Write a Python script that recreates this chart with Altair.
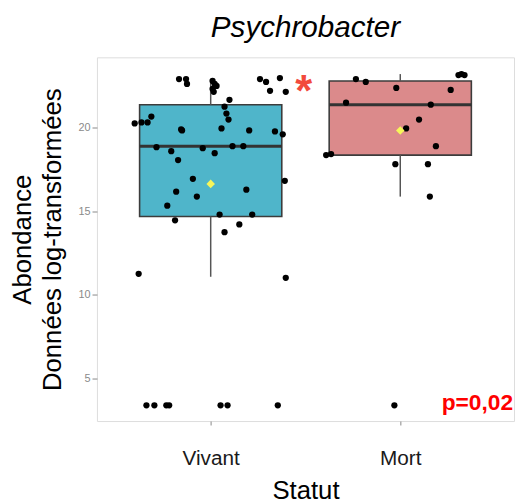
import altair as alt
import pandas as pd

categories = ["Vivant", "Mort"]
box_colors = ["#4fb5ca", "#db8a8b"]

# box statistics
q1 = [14.68, 18.35]
median = [18.88, 21.36]
q3 = [21.36, 22.78]
whisker_low = [11.08, 15.87]
whisker_high = [22.90, 23.19]
means = [16.63, 19.82]
box_half_width = 0.375

vivant_values = [22.89, 22.89, 22.60, 22.78, 22.60, 22.48, 22.30, 22.13, 22.89, 22.72,
                 22.95, 22.19, 22.13, 21.65, 21.24, 20.83, 20.47, 20.24, 20.30, 20.30,
                 20.65, 19.88, 19.82, 19.94, 19.82, 19.76, 19.59, 18.82, 18.58, 18.76,
                 18.46, 18.88, 18.88, 18.05, 16.93, 16.16, 15.87, 16.28, 16.81, 15.33,
                 14.80, 14.80, 14.45, 14.21, 13.74, 11.26, 11.02, 3.40, 3.40, 3.40,
                 3.40, 3.40, 3.40, 3.40]
vivant_jitter = [-0.167, -0.130, -0.125, 0.010, 0.021, 0.031, 0.010, 0.016, 0.260, 0.292,
                 0.365, 0.313, 0.396, 0.099, 0.073, 0.083, 0.094, -0.401, -0.365, -0.333,
                 -0.313, -0.156, -0.151, 0.057, 0.203, 0.339, 0.380, -0.286, -0.208, -0.042,
                 0.021, 0.115, 0.172, -0.172, -0.094, -0.182, -0.073, 0.188, 0.391, -0.229,
                 0.047, 0.219, -0.188, 0.151, 0.073, -0.380, 0.396, -0.339, -0.297, -0.234,
                 -0.219, 0.052, 0.089, 0.354]
mort_values = [22.89, 22.72, 22.36, 22.24, 23.13, 23.19, 23.13, 21.48, 21.36, 20.47,
               19.94, 18.88, 18.35, 18.41, 17.81, 17.81, 15.87, 3.40]
mort_jitter = [-0.234, -0.182, -0.021, 0.266, 0.307, 0.323, 0.339, -0.286, 0.161, 0.099,
               0.031, 0.188, -0.391, -0.365, -0.026, 0.146, 0.156, -0.031]

y_ticks = [5, 10, 15, 20]
y_domain = [2.46, 24.19]
x_domain = [0.4, 2.6]

title_text = "Psychrobacter"
x_title = "Statut"
y_title = ["Abondance", "Données log-transformées"]

sig_text = ["*"]
sig_x = [1.49]
sig_y = [21.3]
p_text = ["p=0,02"]
p_x = [2.6]
p_y = [3.11]

FONT = "Liberation Sans"

# ---- tables ----
box_df = pd.DataFrame({
    "statut": categories,
    "pos": [i + 1 for i in range(len(categories))],
    "q1": q1, "median": median, "q3": q3,
    "lo": whisker_low, "hi": whisker_high, "mean": means,
})
box_df["xl"] = box_df["pos"] - box_half_width
box_df["xr"] = box_df["pos"] + box_half_width

pts = []
for v, j in zip(vivant_values, vivant_jitter):
    pts.append({"statut": "Vivant", "x": 1 + j, "value": v})
for v, j in zip(mort_values, mort_jitter):
    pts.append({"statut": "Mort", "x": 2 + j, "value": v})
pts_df = pd.DataFrame(pts)

sig_df = pd.DataFrame({"x": sig_x, "y": sig_y, "t": sig_text})
p_df = pd.DataFrame({"x": p_x, "y": p_y, "t": p_text})

label_expr = " : ".join(
    [f"datum.value == {i + 1} ? '{c}'" for i, c in enumerate(categories)]
) + " : ''"

xscale = alt.Scale(domain=x_domain, nice=False, zero=False)
yscale = alt.Scale(domain=y_domain, nice=False, zero=False)

xaxis = alt.Axis(values=[1, 2], labelExpr=label_expr, title=x_title, grid=False,
                 domain=False, tickColor="#888888", tickSize=4, tickWidth=1,
                 labelColor="#1a1a1a", labelFontSize=21, labelFont=FONT,
                 labelPadding=23, titleFont=FONT, titleFontSize=26,
                 titleFontWeight="normal", titleColor="#000000", titlePadding=9)
yaxis = alt.Axis(values=y_ticks, title=y_title, grid=False, domain=False,
                 tickColor="#888888", tickSize=5, tickWidth=1, labelColor="#8a8a8a",
                 labelFontSize=11, labelFont=FONT, labelPadding=2,
                 titleFont=FONT, titleFontSize=26, titleFontWeight="normal",
                 titleColor="#000000", titleLineHeight=30, titlePadding=13)

color = alt.Color("statut:N", scale=alt.Scale(domain=categories, range=box_colors), legend=None)

boxes = alt.Chart(box_df).mark_bar(stroke="#3c3c3c", strokeWidth=1.6, opacity=1).encode(
    x=alt.X("xl:Q", scale=xscale, axis=xaxis),
    x2="xr:Q",
    y=alt.Y("q1:Q", scale=yscale, axis=yaxis),
    y2="q3:Q",
    color=color,
)
whisk_hi = alt.Chart(box_df).mark_rule(color="#555555", strokeWidth=1.5).encode(
    x=alt.X("pos:Q", scale=xscale, axis=xaxis),
    y=alt.Y("q3:Q", scale=yscale, axis=yaxis),
    y2="hi:Q",
)
whisk_lo = alt.Chart(box_df).mark_rule(color="#555555", strokeWidth=1.5).encode(
    x=alt.X("pos:Q", scale=xscale, axis=xaxis),
    y=alt.Y("lo:Q", scale=yscale, axis=yaxis),
    y2="q1:Q",
)
med = alt.Chart(box_df).mark_rule(color="#333333", strokeWidth=3.2).encode(
    x=alt.X("xl:Q", scale=xscale, axis=xaxis),
    x2="xr:Q",
    y=alt.Y("median:Q", scale=yscale, axis=yaxis),
)
points = alt.Chart(pts_df).mark_circle(size=40, color="#000000", opacity=1).encode(
    x=alt.X("x:Q", scale=xscale, axis=xaxis),
    y=alt.Y("value:Q", scale=yscale, axis=yaxis),
)
mean_pts = alt.Chart(box_df).mark_point(shape="diamond", filled=True, color="#f6f65a",
                                        size=75, opacity=1).encode(
    x=alt.X("pos:Q", scale=xscale, axis=xaxis),
    y=alt.Y("mean:Q", scale=yscale, axis=yaxis),
)
sig = alt.Chart(sig_df).mark_text(font=FONT, fontSize=44, fontWeight="bold", color="#f24a3c",
                                  align="center", baseline="alphabetic").encode(
    x=alt.X("x:Q", scale=xscale, axis=xaxis),
    y=alt.Y("y:Q", scale=yscale, axis=yaxis),
    text="t:N",
)
ptxt = alt.Chart(p_df).mark_text(font=FONT, fontSize=23, fontWeight="bold", color="#ff0000",
                                 align="right", baseline="alphabetic", dx=-1).encode(
    x=alt.X("x:Q", scale=xscale, axis=xaxis),
    y=alt.Y("y:Q", scale=yscale, axis=yaxis),
    text="t:N",
)

chart = alt.layer(boxes, whisk_hi, whisk_lo, med, points, mean_pts, sig, ptxt).properties(
    width=422,
    height=368,
    autosize="none",
    padding={"left": 90, "top": 47, "right": 1, "bottom": 80},
    title=alt.TitleParams(text=title_text, font=FONT, fontSize=30, fontStyle="italic",
                          fontWeight="normal", color="#000000", anchor="middle", offset=15),
).configure_view(stroke="#7a7a7a", strokeWidth=1.3).configure(background="white")

chart.save("out.html", embed_options={"renderer": "svg", "actions": False})
